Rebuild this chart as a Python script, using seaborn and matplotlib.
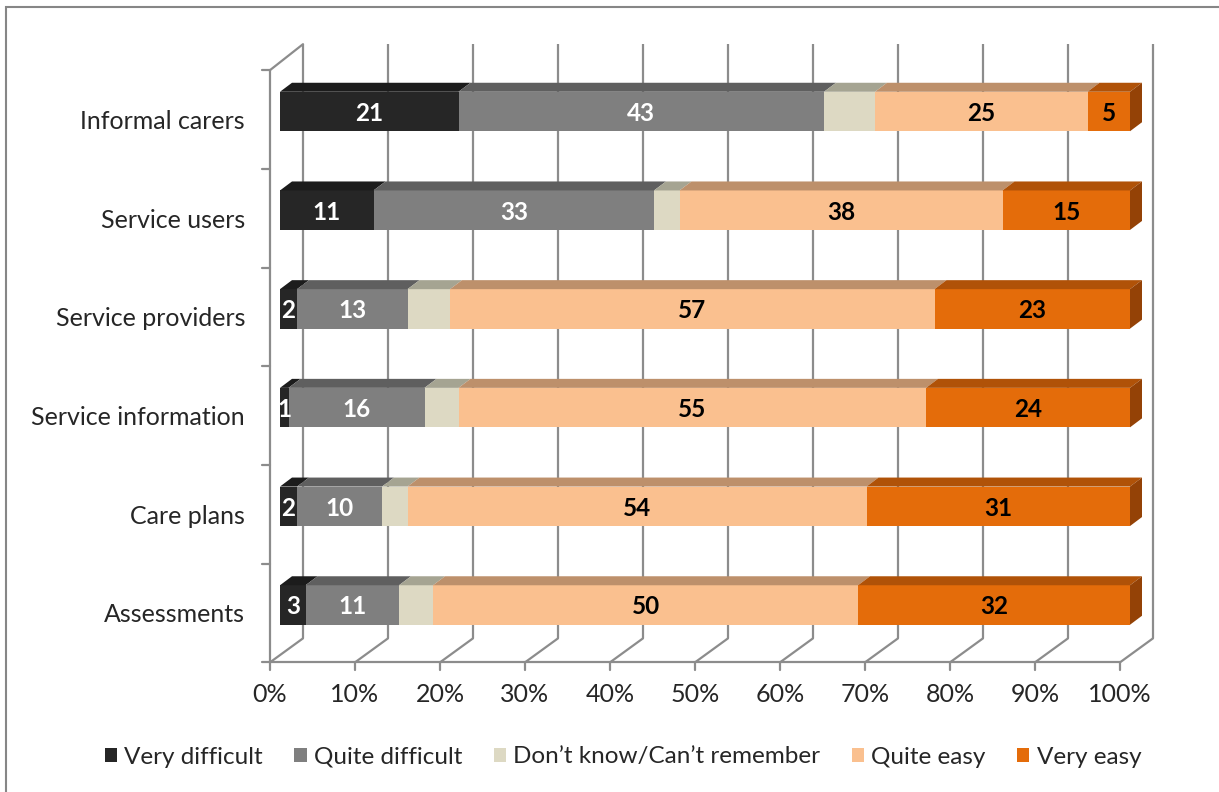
import numpy as np
import pandas as pd
import matplotlib
matplotlib.use("Agg")
import matplotlib.pyplot as plt
from matplotlib.patches import Patch, Rectangle, Polygon
import seaborn as sns

# ---------------- data ----------------
categories = ["Informal carers", "Service users", "Service providers",
              "Service information", "Care plans", "Assessments"]
series_names = ["Very difficult", "Quite difficult", "Don\u2019t know/Can\u2019t remember",
                "Quite easy", "Very easy"]
very_difficult = [21, 11, 2, 1, 2, 3]
quite_difficult = [43, 33, 13, 16, 10, 11]
dont_know = [6, 3, 5, 4, 3, 4]
quite_easy = [25, 38, 57, 55, 54, 50]
very_easy = [5, 15, 23, 24, 31, 32]
x_ticks = [0, 10, 20, 30, 40, 50, 60, 70, 80, 90, 100]
x_tick_labels = ["0%", "10%", "20%", "30%", "40%", "50%", "60%", "70%", "80%", "90%", "100%"]

series_values = [very_difficult, quite_difficult, dont_know, quite_easy, very_easy]
front_colors = ["#262626", "#7f7f7f", "#ddd9c3", "#fac08f", "#e46c0a"]
top_colors = ["#1c1c1c", "#5f5f5f", "#a5a492", "#bd906b", "#b05208"]
side_color = "#944206"
label_colors = ["white", "white", None, "black", "black"]

# ---------------- style ----------------
sns.set_style("white")
plt.rcParams["font.family"] = ["Lato", "DejaVu Sans"]

W, H = 1219, 792
fig = plt.figure(figsize=(W / 100, H / 100), dpi=100)

# pixel geometry helpers (for axes placement and 3D decoration)
PXX = 8.5      # px per percent
PXY = 98.7     # px per category
X0 = 280       # px of 0% on bar front plane
Y0 = 111.5     # px of first category centre (bar front)
ax_l, ax_r, ax_t, ax_b = 252, 1165, 35, 672
ax = fig.add_axes([ax_l / W, 1 - ax_b / H, (ax_r - ax_l) / W, (ax_b - ax_t) / H])

df = pd.DataFrame({"category": categories})
cum = np.zeros(len(categories))
cums = []
for vals in series_values:
    cum = cum + np.array(vals)
    cums.append(cum.copy())

bar_h = 0.40
# draw cumulative totals from longest to shortest -> stacked look
for k in range(len(series_values) - 1, -1, -1):
    df["value"] = cums[k]
    sns.barplot(data=df, x="value", y="category", order=categories, orient="h",
                color=front_colors[k], saturation=1, width=bar_h,
                linewidth=0, edgecolor="none", ax=ax, zorder=3)

# 3D depth of bars
dx = 12 / PXX
dy = 9 / PXY
for i in range(len(categories)):
    left = 0.0
    top = i - bar_h / 2
    for k, vals in enumerate(series_values):
        v = vals[i]
        right = left + v
        poly = Polygon([(left, top), (left + dx, top - dy), (right + dx, top - dy), (right, top)],
                       closed=True, facecolor=top_colors[k], edgecolor="none", zorder=3)
        ax.add_patch(poly)
        if label_colors[k] is not None:
            ax.text(left + v / 2, i + 0.02, str(v), ha="center", va="center",
                    color=label_colors[k], fontsize=17.5, fontweight="bold", zorder=5)
        left = right
    side = Polygon([(left, top), (left + dx, top - dy), (left + dx, top + bar_h - dy), (left, top + bar_h)],
                   closed=True, facecolor=side_color, edgecolor="none", zorder=3)
    ax.add_patch(side)

# ---------------- axes frame (3D walls) ----------------
gcol = "#8c8c8c"
lw = 1.6
fx = -10 / PXX          # front plane x shift (%)
fy = 8 / PXY            # front plane y shift (cat units, downward)
bx = 23 / PXX           # back wall x shift
by = -16 / PXY          # back wall y shift
n = len(categories)
top_front = -0.5 + fy
bot_front = n - 0.5 + fy
top_back = -0.5 + by - 0.02
bot_back = n - 0.5 + by

for t in x_ticks:
    ax.plot([t + bx, t + bx], [top_back, bot_back], color=gcol, lw=lw, zorder=1, solid_capstyle="butt")
    ax.plot([t + bx, t + fx], [bot_back, bot_front], color=gcol, lw=lw, zorder=1)
    ax.plot([t + fx, t + fx], [bot_front, bot_front + 8 / PXY], color=gcol, lw=lw, zorder=1)
ax.plot([x_ticks[0] + fx, x_ticks[-1] + fx], [bot_front, bot_front], color=gcol, lw=lw, zorder=1)
ax.plot([fx, fx], [top_front, bot_front], color=gcol, lw=lw, zorder=1)
ax.plot([fx, bx], [top_front, top_back], color=gcol, lw=lw, zorder=1)
for k in range(n + 1):
    yk = -0.5 + k + fy
    ax.plot([fx - 8 / PXX, fx], [yk, yk], color=gcol, lw=lw, zorder=1)

# ---------------- limits & ticks ----------------
ax.set_xlim((ax_l - X0) / PXX, (ax_r - X0) / PXX)
ax.set_ylim((ax_b - Y0) / PXY, (ax_t - Y0) / PXY)
ax.set_xticks([t + fx for t in x_ticks])
ax.set_xticklabels(x_tick_labels, fontsize=18)
ax.set_yticks([i + fy for i in range(n)])
ax.set_yticklabels(categories, fontsize=18)
ax.tick_params(axis="x", length=0, pad=8)
ax.tick_params(axis="y", length=0, pad=5)
ax.set_xlabel("")
ax.set_ylabel("")
for s in ax.spines.values():
    s.set_visible(False)
ax.grid(False)
ax.patch.set_alpha(0)

# ---------------- legend ----------------
handles = [Patch(facecolor=c, edgecolor="none") for c in front_colors]
fig.legend(handles, series_names, loc="center", bbox_to_anchor=(623 / W, 1 - 757 / H),
           ncol=5, frameon=False, fontsize=17.5, handlelength=0.5, handleheight=0.55,
           handletextpad=0.3, columnspacing=1.3)

# outer border
fig.patches.append(Rectangle((6 / W, -0.02), 1.05, 1 - 7 / H + 0.02, transform=fig.transFigure,
                             fill=False, edgecolor="#868686", lw=1.5))

fig.savefig("out.png", dpi=100)
